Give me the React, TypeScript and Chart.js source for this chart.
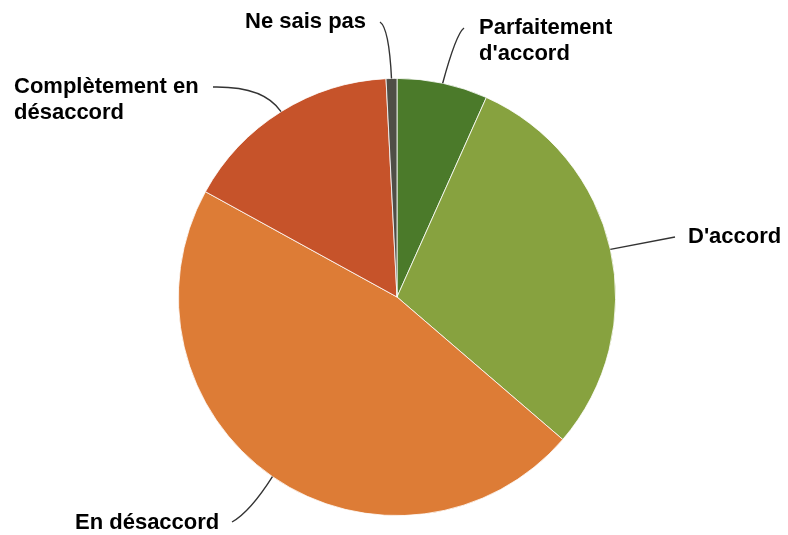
import React, { useEffect, useRef } from "react";
import { Chart, registerables } from "chart.js";

Chart.register(...registerables);

const categories = ["Parfaitement d'accord", "D'accord", "En désaccord", "Complètement en désaccord", "Ne sais pas"];
const labelLines = [["Parfaitement", "d'accord"], ["D'accord"], ["En désaccord"], ["Complètement en", "désaccord"], ["Ne sais pas"]];
const values = [6.7, 29.6, 46.7, 16.2, 0.8];
const colors = ["#4b7a2a", "#87a23f", "#dd7c36", "#c6532a", "#4f4e46"];

// label layout: text anchor (left x, first-line middle y), leader via points
const labelLayout = [
  { tx: 479, ty: 28, path: [[456, 34], [464, 28]] },
  { tx: 688, ty: 237, path: [[675, 237]] },
  { tx: 75, ty: 523, path: [[250, 512], [232, 522]] },
  { tx: 14, ty: 87, path: [[264, 86], [213, 87]] },
  { tx: 245, ty: 22, path: [[389, 28], [380, 22]] },
];

const leaderPlugin = {
  id: "leaders",
  afterDraw(chart: any) {
    const ctx = chart.ctx;
    const meta = chart.getDatasetMeta(0);
    ctx.save();
    ctx.font = "bold 22px 'Liberation Sans', Arial, sans-serif";
    ctx.fillStyle = "#000";
    ctx.textBaseline = "middle";
    ctx.textAlign = "left";
    meta.data.forEach((arc: any, i: number) => {
      const p = arc.getProps(["x", "y", "startAngle", "endAngle", "outerRadius"], true);
      const mid = (p.startAngle + p.endAngle) / 2;
      const sx = p.x + Math.cos(mid) * p.outerRadius;
      const sy = p.y + Math.sin(mid) * p.outerRadius;
      const L = labelLayout[i];
      ctx.strokeStyle = "#333";
      ctx.lineWidth = 1.4;
      ctx.beginPath();
      ctx.moveTo(sx, sy);
      if (L.path.length === 2) {
        ctx.quadraticCurveTo(L.path[0][0], L.path[0][1], L.path[1][0], L.path[1][1]);
      } else {
        ctx.lineTo(L.path[0][0], L.path[0][1]);
      }
      ctx.stroke();
      labelLines[i].forEach((t, j) => ctx.fillText(t, L.tx, L.ty + j * 26));
    });
    ctx.restore();
  },
};

export default function App() {
  const ref = useRef<HTMLCanvasElement>(null);
  useEffect(() => {
    const chart = new Chart(ref.current!, {
      type: "pie",
      data: {
        labels: categories,
        datasets: [{ data: values, backgroundColor: colors, borderColor: "#ffffff", borderWidth: 0.8 }],
      },
      options: {
        animation: false,
        responsive: false,
        layout: { padding: { top: 78, bottom: 19, left: 178, right: 172 } },
        plugins: { legend: { display: false }, tooltip: { enabled: false } },
      },
      plugins: [leaderPlugin],
    });
    return () => chart.destroy();
  }, []);
  return (
    <div style={{ position: "absolute", left: 0, top: 0, width: 788, height: 535, background: "#fff" }}>
      <canvas ref={ref} width={788} height={535} />
    </div>
  );
}
